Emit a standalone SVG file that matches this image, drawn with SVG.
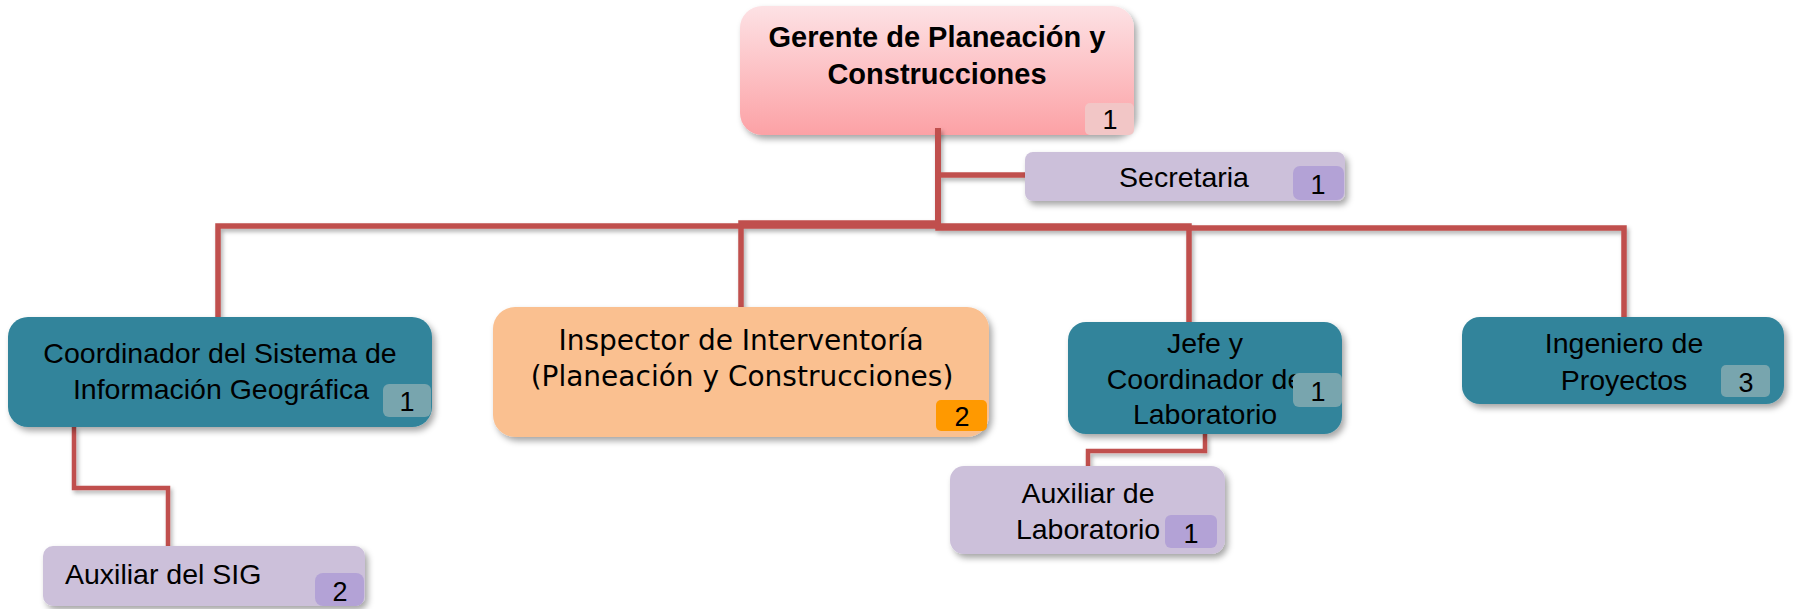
<svg xmlns="http://www.w3.org/2000/svg" width="1793" height="609" viewBox="0 0 1793 609">
<style>
.t{font-family:"Liberation Sans",Arial,sans-serif;font-size:28.5px;fill:#000;text-anchor:middle}
.tb{font-family:"Liberation Sans",Arial,sans-serif;font-size:29px;font-weight:bold;fill:#000;text-anchor:middle}
.td{font-family:"DejaVu Sans",Verdana,sans-serif;font-size:28px;fill:#000;text-anchor:middle}
.n{font-family:"Liberation Sans",Arial,sans-serif;font-size:27px;fill:#000;text-anchor:middle}
.teal{fill:#31849b}
.lav{fill:#ccc0da}
.peach{fill:#fac090}
.bteal{fill:#78a5ae}
.blav{fill:#b3a2d6}
.conn{fill:none;stroke:#c0504d;stroke-width:5.5;stroke-linejoin:miter}
.conn2{fill:none;stroke:#c0504d;stroke-width:4.5}
</style>
<defs>
<linearGradient id="gp" x1="0" y1="0" x2="0" y2="1">
<stop offset="0" stop-color="#fde2e5"/>
<stop offset="1" stop-color="#fca1a5"/>
</linearGradient>
<filter id="sh" x="-10%" y="-10%" width="130%" height="140%">
<feDropShadow dx="3" dy="4" stdDeviation="3" flood-color="#000" flood-opacity="0.35"/>
</filter>
<filter id="shl" x="-5%" y="-5%" width="110%" height="120%">
<feDropShadow dx="2" dy="3" stdDeviation="2" flood-color="#000" flood-opacity="0.3"/>
</filter>
</defs>
<rect width="1793" height="609" fill="#fff"/>

<g id="gerente">
<rect x="740" y="6" width="394" height="129" rx="22" fill="url(#gp)" filter="url(#sh)"/>
<text class="tb" x="937" y="47">Gerente de Planeación y</text>
<text class="tb" x="937" y="84">Construcciones</text>
<rect x="1085" y="103" width="49" height="32" rx="5" fill="#f2c6c6"/>
<text class="n" x="1110" y="129">1</text>
</g>

<g id="connectors" filter="url(#shl)">
<path class="conn" d="M938,128 V226 H218 V317"/>
<path class="conn" d="M938,128 V223 H741 V307"/>
<path class="conn" d="M938,128 V226 H1189 V323"/>
<path class="conn" d="M938,128 V228 H1624 V318"/>
<path class="conn" d="M938,175 H1026"/>
<path class="conn2" d="M74,427 V488 H168 V546"/>
<path class="conn2" d="M1205,434 V451 H1088 V466"/>
</g>

<g id="secretaria">
<rect x="1025" y="152" width="320" height="49" rx="8" class="lav" filter="url(#sh)"/>
<text class="t" x="1184" y="187">Secretaria</text>
<rect x="1293" y="166" width="51" height="34" rx="7" class="blav"/>
<text class="n" x="1318" y="194">1</text>
</g>

<g id="coordinador-sig">
<rect x="8" y="317" width="424" height="110" rx="20" class="teal" filter="url(#sh)"/>
<text class="t" x="220" y="363">Coordinador del Sistema de</text>
<text class="t" x="221" y="399">Información Geográfica</text>
<rect x="383" y="384" width="48" height="33" rx="6" class="bteal"/>
<text class="n" x="407" y="411">1</text>
</g>

<g id="inspector">
<rect x="493" y="307" width="496" height="130" rx="22" class="peach" filter="url(#sh)"/>
<text class="td" x="741" y="350">Inspector de Interventoría</text>
<text class="td" x="742" y="386">(Planeación y Construcciones)</text>
<rect x="936" y="400" width="51" height="31" rx="5" fill="#ff9900"/>
<text class="n" x="962" y="426">2</text>
</g>

<g id="jefe-laboratorio">
<rect x="1068" y="322" width="274" height="112" rx="18" class="teal" filter="url(#sh)"/>
<text class="t" x="1205" y="353">Jefe y</text>
<text class="t" x="1205" y="389">Coordinador de</text>
<text class="t" x="1205" y="424">Laboratorio</text>
<rect x="1293" y="373" width="49" height="34" rx="6" class="bteal"/>
<text class="n" x="1318" y="401">1</text>
</g>

<g id="ingeniero">
<rect x="1462" y="317" width="322" height="87" rx="18" class="teal" filter="url(#sh)"/>
<text class="t" x="1624" y="353">Ingeniero de</text>
<text class="t" x="1624" y="390">Proyectos</text>
<rect x="1721" y="365" width="49" height="32" rx="5" class="bteal"/>
<text class="n" x="1746" y="392">3</text>
</g>

<g id="auxiliar-laboratorio">
<rect x="950" y="466" width="275" height="88" rx="14" class="lav" filter="url(#sh)"/>
<text class="t" x="1088" y="503">Auxiliar de</text>
<text class="t" x="1088" y="539">Laboratorio</text>
<rect x="1165" y="515" width="52" height="33" rx="6" class="blav"/>
<text class="n" x="1191" y="543">1</text>
</g>

<g id="auxiliar-sig">
<rect x="43" y="546" width="322" height="60" rx="10" class="lav" filter="url(#sh)"/>
<text class="t" x="65" y="584" style="text-anchor:start">Auxiliar del SIG</text>
<rect x="315" y="573" width="49" height="33" rx="8" class="blav"/>
<text class="n" x="340" y="601">2</text>
</g>
</svg>
